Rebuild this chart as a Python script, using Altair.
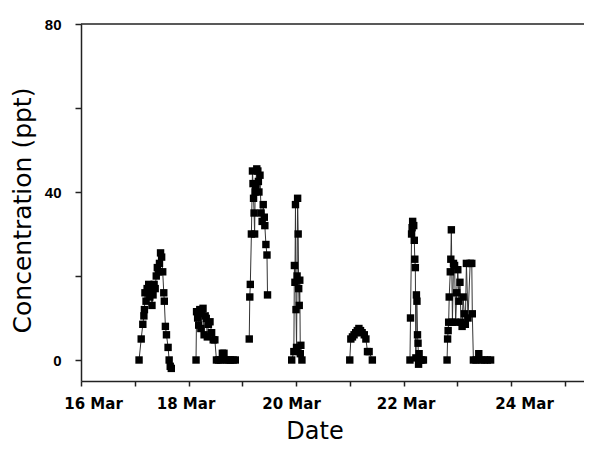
import altair as alt
import pandas as pd

YEAR = 2003

# decimal day-of-March and concentration (ppt) for each sampling burst
c1_day = [17.08, 17.12, 17.15, 17.17, 17.18, 17.19, 17.21, 17.23, 17.26, 17.28, 17.30, 17.32, 17.34,
          17.36, 17.38, 17.40, 17.42, 17.44, 17.46, 17.48, 17.50, 17.52, 17.54, 17.55, 17.57, 17.59,
          17.62, 17.64, 17.66, 17.68]
c1_val = [0, 5, 8.5, 10.5, 12, 16, 14, 17, 18, 15, 16.5, 13, 15.5,
          18, 17, 20, 22, 21, 23, 25.5, 24.5, 21, 16, 14, 8, 6,
          3, 0, -1.5, -2]

c2_day = [18.14, 18.15, 18.17, 18.19, 18.21, 18.23, 18.25, 18.27, 18.29, 18.31, 18.33, 18.35, 18.37,
          18.40, 18.43, 18.46, 18.49, 18.52, 18.56, 18.60, 18.63, 18.66, 18.70, 18.74, 18.78, 18.83, 18.87]
c2_val = [0, 11.5, 10, 8.3, 12, 7.5, 11, 12.3, 6, 10.5, 9.9, 5.5, 8.5,
          9.1, 6.5, 4.8, 4.8, 0, 0, 0, 1.6, 1.6, 0, 0, 0, 0, 0]

c3_day = [19.13, 19.14, 19.15, 19.17, 19.19, 19.20, 19.21, 19.22, 19.23, 19.24, 19.25, 19.27,
          19.29, 19.30, 19.31, 19.33, 19.35, 19.37, 19.39, 19.41, 19.42, 19.44, 19.46, 19.47]
c3_val = [5, 15, 18, 30, 45, 42, 38.5, 35, 30, 40, 41.5, 45.5,
          45, 42.5, 40, 44, 35, 33, 37, 34, 32, 27.5, 25, 15.5]

c4_day = [19.92, 19.96, 19.97, 19.98, 19.99, 20.00, 20.01, 20.02, 20.03, 20.04, 20.05, 20.06,
          20.07, 20.08, 20.09, 20.11]
c4_val = [0, 2, 22.5, 18.5, 37, 12, 3, 20, 38.5, 30, 17, 13,
          19, 1.5, 3.5, 0]

c5_day = [21.00, 21.02, 21.05, 21.08, 21.11, 21.14, 21.17, 21.20, 21.23, 21.27, 21.30, 21.33, 21.36, 21.42]
c5_val = [0, 5, 5.5, 6, 6.5, 7, 7.5, 7, 6.5, 6, 5, 2, 2, 0]

c6_day = [22.12, 22.13, 22.15, 22.16, 22.17, 22.19, 22.20, 22.21, 22.22, 22.23, 22.24, 22.25,
          22.26, 22.27, 22.28, 22.29, 22.31, 22.34, 22.37]
c6_val = [0, 10, 30, 31.5, 33, 32, 28.5, 24, 22, 0.5, 15.5, 14,
          6, 4, -1, 1.5, 0, 0, 0]

c7_day = [22.81, 22.82, 22.83, 22.84, 22.85, 22.87, 22.88, 22.89, 22.91, 22.93, 22.95, 22.97,
          22.99, 23.01, 23.03, 23.05, 23.07, 23.09, 23.11, 23.13, 23.15, 23.17, 23.20, 23.24,
          23.27, 23.28, 23.30, 23.35, 23.40, 23.44, 23.50, 23.56, 23.62]
c7_val = [0, 5, 7, 9, 15, 21, 24, 31, 9, 23, 22.5, 9,
          16, 21.5, 14, 18.5, 9, 8, 15, 11, 8.5, 23, 10, 23,
          23, 11, 0, 0, 1.5, 0, 0, 0, 0]

clusters = [(c1_day, c1_val), (c2_day, c2_val), (c3_day, c3_val), (c4_day, c4_val),
            (c5_day, c5_val), (c6_day, c6_val), (c7_day, c7_val)]

rows = []
base = pd.Timestamp(YEAR, 3, 1)
for k, (days, vals) in enumerate(clusters):
    for d, v in zip(days, vals):
        rows.append({"t": base + pd.Timedelta(days=d - 1), "c": v, "g": k})
df = pd.DataFrame(rows)

x_ticks = [alt.DateTime(year=YEAR, month=3, date=d) for d in range(16, 26)]
x_domain = [alt.DateTime(year=YEAR, month=3, date=16),
            alt.DateTime(year=YEAR, month=3, date=25, hours=8, minutes=35)]
y_ticks = [0, 20, 40, 60, 80]

label_shift = {
    "condition": [
        {"test": "date(datum.value) == 16", "value": 12},
        {"test": "date(datum.value) == 18", "value": -3},
        {"test": "date(datum.value) == 20", "value": -5},
        {"test": "date(datum.value) == 22", "value": 2},
        {"test": "date(datum.value) == 24", "value": 13},
    ],
    "value": 0,
}

x_enc = alt.X(
    "t:T",
    scale=alt.Scale(domain=x_domain),
    axis=alt.Axis(
        values=x_ticks,
        labelExpr="date(datum.value) % 2 == 0 ? timeFormat(datum.value, '%-d %b') : ''",
        labelOverlap=False, labelFlush=False, labelOffset=label_shift,
        tickSize=5, labelPadding=10,
        labelFont="DejaVu Sans", labelFontWeight="bold", labelFontSize=15, labelColor="black",
        domainColor="#222", domainWidth=1.5, tickColor="#222", tickWidth=1.5, grid=False,
        title="Date", titleFont="DejaVu Sans", titleFontSize=24, titleFontWeight="normal",
        titleColor="black", titleBaseline="alphabetic", titleY=57, titleX=233.5,
    ),
)
y_enc = alt.Y(
    "c:Q",
    scale=alt.Scale(domain=[-5, 80], nice=False, zero=False),
    axis=alt.Axis(
        values=y_ticks,
        labelExpr="datum.value % 40 == 0 ? datum.label : ''",
        labelOverlap=False,
        tickSize=6, labelPadding=14,
        labelFont="Liberation Sans", labelFontWeight="bold", labelFontSize=15, labelColor="black",
        domainColor="#222", domainWidth=1.5, tickColor="#222", tickWidth=1.5, grid=False,
        title="Concentration (ppt)", titleFont="DejaVu Sans", titleFontSize=25,
        titleFontWeight="normal", titleColor="black", titleBaseline="alphabetic",
        titleX=-51, titleY=186,
    ),
)

lines = alt.Chart(df).mark_line(color="#333", strokeWidth=1).encode(
    x=x_enc, y=y_enc, detail="g:N", order="t:T"
)
points = alt.Chart(df).mark_point(shape="square", filled=True, size=55, color="black", opacity=1).encode(
    x="t:T", y="c:Q"
)
top = alt.Chart(pd.DataFrame({"v": [80]})).mark_rule(color="#222", strokeWidth=1.5).encode(y="v:Q")

chart = alt.layer(lines, points, top).properties(
    width=503, height=357,
    autosize=alt.AutoSizeParams(type="none"),
    padding={"left": 73, "top": 16, "right": 0, "bottom": 64},
).configure_view(stroke=None)

chart.save("out.html", embed_options={"renderer": "svg", "actions": False})
